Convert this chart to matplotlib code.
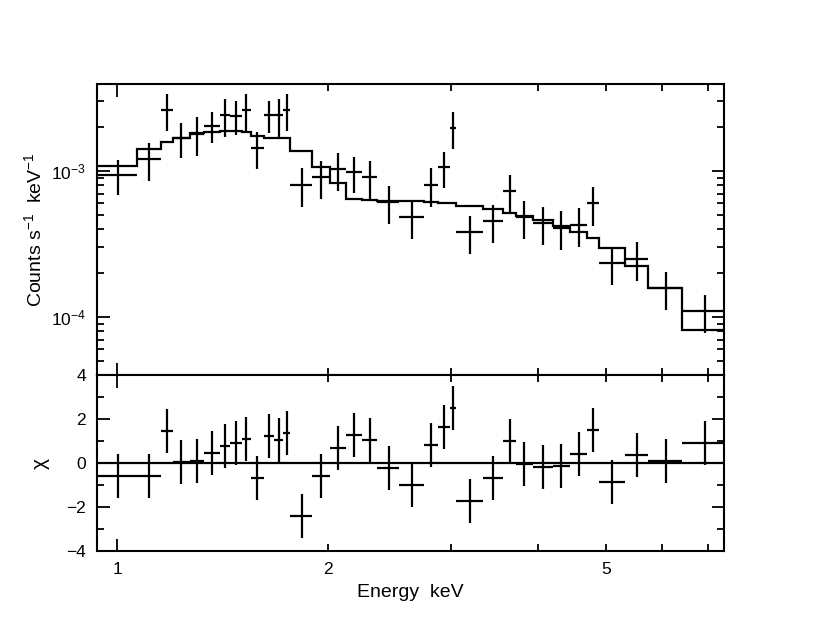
import numpy as np
import matplotlib
matplotlib.use("Agg")
import matplotlib.pyplot as plt
from matplotlib.ticker import FixedLocator, FuncFormatter, LogLocator, NullFormatter

plt.rcParams['font.family'] = ['Liberation Sans', 'DejaVu Sans']
plt.rcParams['mathtext.fontset'] = 'custom'
plt.rcParams['mathtext.rm'] = 'Liberation Sans'
plt.rcParams['mathtext.it'] = 'Liberation Sans:italic'

# energy bin edges (keV), 35 bins
bin_edges = [0.936, 1.069, 1.156, 1.201, 1.271, 1.332, 1.403, 1.450, 1.507, 1.552,
             1.622, 1.678, 1.725, 1.769, 1.901, 2.015, 2.122, 2.237, 2.355, 2.531,
             2.745, 2.877, 2.990, 3.050, 3.331, 3.561, 3.715, 3.926, 4.193, 4.437,
             4.697, 4.882, 5.318, 5.741, 6.421, 7.413]

# observed counts s^-1 keV^-1 and 1-sigma errors
counts = [9.4e-4, 1.21e-3, 2.62e-3, 1.68e-3, 1.80e-3, 2.05e-3, 2.41e-3, 2.40e-3, 2.62e-3, 1.45e-3,
          2.42e-3, 2.41e-3, 2.62e-3, 8.05e-4, 9.1e-4, 1.033e-3, 9.8e-4, 9.05e-4, 6.1e-4, 4.85e-4,
          8.05e-4, 1.06e-3, 1.965e-3, 3.81e-4, 4.53e-4, 7.28e-4, 4.85e-4, 4.38e-4, 4.1e-4, 4.28e-4,
          6.03e-4, 2.34e-4, 2.5e-4, 1.57e-4, 1.10e-4]
errors = [2.5e-4, 3.55e-4, 7.37e-4, 4.6e-4, 5.3e-4, 5.0e-4, 7.05e-4, 6.3e-4, 7.4e-4, 4.15e-4,
          6.1e-4, 7.05e-4, 7.4e-4, 2.4e-4, 2.64e-4, 3.0e-4, 2.75e-4, 2.65e-4, 1.77e-4, 1.43e-4,
          2.37e-4, 2.94e-4, 5.57e-4, 1.11e-4, 1.325e-4, 2.1e-4, 1.43e-4, 1.265e-4, 1.2e-4, 1.26e-4,
          1.8e-4, 6.9e-5, 7.4e-5, 4.6e-5, 3.25e-5]

# folded model per bin
model = [1.082e-3, 1.408e-3, 1.573e-3, 1.691e-3, 1.812e-3, 1.858e-3, 1.888e-3, 1.888e-3, 1.841e-3, 1.745e-3,
         1.691e-3, 1.691e-3, 1.691e-3, 1.377e-3, 1.060e-3, 8.31e-4, 6.43e-4, 6.33e-4, 6.28e-4, 6.26e-4,
         6.16e-4, 6.07e-4, 6.07e-4, 5.76e-4, 5.47e-4, 5.18e-4, 4.92e-4, 4.62e-4, 4.22e-4, 3.84e-4,
         3.46e-4, 2.95e-4, 2.24e-4, 1.573e-4, 8.15e-5]

# residuals (data - model) / sigma
chi = [-0.58, -0.58, 1.45, 0.05, 0.1, 0.47, 0.79, 0.92, 1.09, -0.67,
       1.23, 1.06, 1.35, -2.41, -0.58, 0.70, 1.27, 1.06, -0.24, -1.0,
       0.82, 1.62, 2.51, -1.71, -0.67, 1.0, -0.06, -0.2, -0.14, 0.39,
       1.48, -0.88, 0.36, 0.09, 0.89]

edges = np.array(bin_edges)
e_mid = 0.5 * (edges[:-1] + edges[1:])
xerr = [e_mid - edges[:-1], edges[1:] - e_mid]

fig = plt.figure(figsize=(8.22, 6.35), dpi=100)
ax1 = fig.add_axes([0.118, 0.4094, 0.7628, 0.4583])
ax2 = fig.add_axes([0.118, 0.1323, 0.7628, 0.2771], sharex=ax1)

lw = 1.6
ax1.errorbar(e_mid, counts, xerr=xerr, yerr=errors, fmt='none', ecolor='k', elinewidth=lw, capsize=0)
ax1.stairs(model, edges, baseline=None, color='k', linewidth=lw)
ax1.set_xscale('log')
ax1.set_yscale('log')
ax1.set_xlim(0.936, 7.37)
ax1.set_ylim(4.0e-5, 3.95e-3)

ax2.errorbar(e_mid, chi, xerr=xerr, yerr=1.0, fmt='none', ecolor='k', elinewidth=lw, capsize=0)
ax2.axhline(0, color='k', linewidth=lw)
ax2.set_ylim(-4, 4)

for ax in (ax1, ax2):
    for s in ax.spines.values():
        s.set_linewidth(1.5)
    ax.tick_params(which='both', direction='in', top=True, right=True, width=1.3, labelsize=12.5, pad=8)
    ax.tick_params(which='major', length=9)
    ax.tick_params(which='minor', length=5)
    ax.xaxis.set_major_locator(FixedLocator([1]))
    ax.xaxis.set_minor_locator(FixedLocator([2, 3, 4, 5, 6, 7]))

ax1.yaxis.set_major_locator(LogLocator(base=10))
ax1.yaxis.set_minor_locator(LogLocator(base=10, subs=np.arange(2, 10)))
ax1.yaxis.set_major_formatter(FuncFormatter(lambda v, p: r'$\mathregular{10^{%d}}$' % round(np.log10(v))))
ax1.yaxis.set_minor_formatter(NullFormatter())
ax1.tick_params(axis='x', which='both', labelbottom=False)

ax2.yaxis.set_major_locator(FixedLocator([-4, -2, 0, 2, 4]))
ax2.yaxis.set_minor_locator(FixedLocator([-3, -1, 1, 3]))
ax2.yaxis.set_major_formatter(FuncFormatter(lambda v, p: '%d' % v if v >= 0 else '\u2212%d' % abs(v)))
ax2.xaxis.set_major_formatter(FuncFormatter(lambda v, p: '%g' % v))
ax2.xaxis.set_minor_formatter(FuncFormatter(lambda v, p: '%g' % v if v in (2, 5) else ''))

ax1.set_ylabel(r'Counts s$^{\mathregular{-1}}$  keV$^{\mathregular{-1}}$', fontsize=14, labelpad=4)
ax2.set_ylabel('\u03c7', fontsize=15, labelpad=12)
ax2.set_xlabel('Energy  keV', fontsize=14, labelpad=5)

fig.savefig('out.png', dpi=100)
